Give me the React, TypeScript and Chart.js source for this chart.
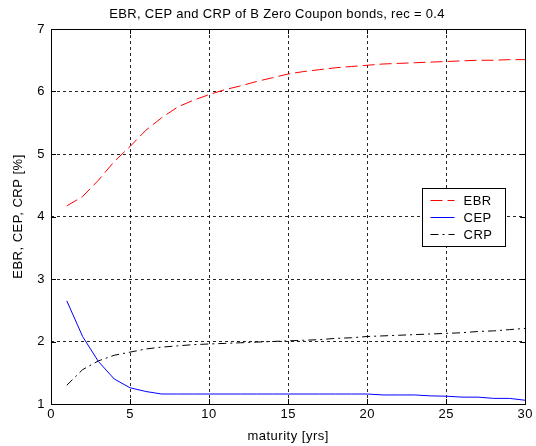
import React, { useEffect, useRef } from "react";
import { Chart, registerables } from "chart.js";

Chart.register(...registerables);

const TITLE = "EBR, CEP and CRP of B Zero Coupon bonds, rec = 0.4";
const X_LABEL = "maturity [yrs]";
const Y_LABEL = "EBR, CEP, CRP [%]";

const maturities = [1, 2, 3, 4, 5, 6, 7, 8, 9, 10, 11, 12, 13, 14, 15, 16, 17, 18, 19, 20, 21, 22, 23, 24, 25, 26, 27, 28, 29, 30];
const ebr = [4.17, 4.32, 4.58, 4.88, 5.12, 5.38, 5.58, 5.75, 5.86, 5.95, 6.03, 6.09, 6.16, 6.22, 6.28, 6.32, 6.35, 6.38, 6.40, 6.42, 6.44, 6.45, 6.46, 6.47, 6.48, 6.49, 6.50, 6.50, 6.51, 6.51];
const cep = [2.65, 2.08, 1.68, 1.4, 1.26, 1.2, 1.16, 1.16, 1.16, 1.16, 1.16, 1.16, 1.16, 1.16, 1.16, 1.16, 1.16, 1.16, 1.16, 1.16, 1.145, 1.145, 1.145, 1.13, 1.125, 1.11, 1.11, 1.09, 1.09, 1.06];
const crp = [1.3, 1.55, 1.69, 1.78, 1.83, 1.88, 1.91, 1.93, 1.95, 1.96, 1.97, 1.98, 1.99, 2.0, 2.01, 2.02, 2.03, 2.05, 2.06, 2.08, 2.09, 2.1, 2.11, 2.12, 2.13, 2.14, 2.16, 2.17, 2.19, 2.21];
const seriesNames = ["EBR", "CEP", "CRP"];
const xTicks = [0, 5, 10, 15, 20, 25, 30];
const yTicks = [1, 2, 3, 4, 5, 6, 7];

const FONT = "'Liberation Sans', Arial, Helvetica, sans-serif";
const FS = 13;
const SPACING = "0.5px";

const spacingPlugin = {
  id: "spacing",
  beforeLayout(chart: any) {
    chart.ctx.letterSpacing = SPACING;
  },
  beforeDraw(chart: any) {
    chart.ctx.letterSpacing = SPACING;
  },
};

const matlabPlugin = {
  id: "matlabBox",
  afterDraw(chart: any) {
    const { ctx, chartArea } = chart;
    const { left, right, top, bottom } = chartArea;
    const xs = chart.scales.x;
    const ys = chart.scales.y;
    ctx.save();
    ctx.strokeStyle = "#000";
    ctx.lineWidth = 1;
    ctx.setLineDash([]);
    const tl = 5;
    ctx.beginPath();
    xTicks.forEach((v) => {
      const px = Math.round(xs.getPixelForValue(v)) + 0.5;
      ctx.moveTo(px, bottom);
      ctx.lineTo(px, bottom - tl);
      ctx.moveTo(px, top);
      ctx.lineTo(px, top + tl);
    });
    yTicks.forEach((v) => {
      const py = Math.round(ys.getPixelForValue(v)) + 0.5;
      ctx.moveTo(left, py);
      ctx.lineTo(left + tl, py);
      ctx.moveTo(right, py);
      ctx.lineTo(right - tl, py);
    });
    ctx.stroke();
    ctx.strokeRect(Math.round(left) + 0.5, Math.round(top) + 0.5, Math.round(right - left), Math.round(bottom - top));

    // title
    ctx.font = FS + "px " + FONT;
    ctx.letterSpacing = "0.3px";
    ctx.fillStyle = "#000";
    ctx.textAlign = "center";
    ctx.textBaseline = "middle";
    ctx.fillText(TITLE, chart.width / 2 + 9, 14);

    // legend
    const bw = 83;
    const bh = 58;
    const bx = Math.round(right - 20 - bw) + 0.5;
    const by = Math.round((top + bottom) / 2 - 29) + 0.5;
    ctx.fillStyle = "#fff";
    ctx.fillRect(bx, by, bw, bh);
    ctx.strokeStyle = "#000";
    ctx.strokeRect(bx, by, bw, bh);
    ctx.letterSpacing = SPACING;
    ctx.textAlign = "left";
    chart.data.datasets.forEach((ds: any, i: number) => {
      const ry = Math.round(by + 11 + i * 17) + 0.5;
      ctx.strokeStyle = ds.borderColor;
      ctx.lineWidth = 1;
      ctx.setLineDash(ds.borderDash || []);
      ctx.beginPath();
      ctx.moveTo(bx + 8, ry);
      ctx.lineTo(bx + 32, ry);
      ctx.stroke();
      ctx.setLineDash([]);
      ctx.fillStyle = "#000";
      ctx.fillText(ds.label, bx + 41, ry + 0.5);
    });
    ctx.restore();
  },
};

export default function App() {
  const ref = useRef<HTMLCanvasElement | null>(null);
  useEffect(() => {
    document.body.style.margin = "0";
    const canvas = ref.current;
    if (!canvas) return;
    const font = { family: FONT, size: FS, weight: "normal" };
    const chart = new Chart(canvas, {
      type: "line",
      data: {
        datasets: [
          {
            label: seriesNames[0],
            data: maturities.map((m, i) => ({ x: m, y: ebr[i] })),
            borderColor: "#ff0000",
            borderWidth: 1,
            borderDash: [12, 5],
            pointRadius: 0,
            tension: 0,
            fill: false,
          },
          {
            label: seriesNames[1],
            data: maturities.map((m, i) => ({ x: m, y: cep[i] })),
            borderColor: "#0000ff",
            borderWidth: 1,
            pointRadius: 0,
            tension: 0,
            fill: false,
          },
          {
            label: seriesNames[2],
            data: maturities.map((m, i) => ({ x: m, y: crp[i] })),
            borderColor: "#000000",
            borderWidth: 1,
            borderDash: [8, 4, 2, 4],
            pointRadius: 0,
            tension: 0,
            fill: false,
          },
        ],
      },
      options: {
        responsive: false,
        animation: false,
        devicePixelRatio: 1,
        layout: { padding: { left: 0, right: 9, top: 29, bottom: 0 } },
        plugins: {
          legend: { display: false },
          tooltip: { enabled: false },
          title: { display: false },
        },
        scales: {
          x: {
            type: "linear",
            min: 0,
            max: 30,
            afterBuildTicks: (s: any) => {
              s.ticks = xTicks.map((v) => ({ value: v }));
            },
            afterFit: (s: any) => {
              s.height = 42;
            },
            ticks: {
              color: "#000",
              font,
              padding: 3,
              maxRotation: 0,
            },
            grid: { color: "rgba(0,0,0,0.85)", lineWidth: 1, drawTicks: false },
            border: { display: false, dash: [3, 3] },
            title: {
              display: true,
              text: X_LABEL,
              color: "#000",
              font,
              padding: { top: 0, bottom: 2 },
            },
          },
          y: {
            type: "linear",
            min: 1,
            max: 7,
            afterBuildTicks: (s: any) => {
              s.ticks = yTicks.map((v) => ({ value: v }));
            },
            afterFit: (s: any) => {
              s.width = 51;
            },
            ticks: {
              color: "#000",
              font,
              padding: 6,
            },
            grid: { color: "rgba(0,0,0,0.85)", lineWidth: 1, drawTicks: false },
            border: { display: false, dash: [3, 3] },
            title: {
              display: true,
              text: Y_LABEL,
              color: "#000",
              font,
              padding: { top: 11, bottom: 0 },
            },
          },
        },
      },
      plugins: [spacingPlugin, matlabPlugin],
    } as any);
    return () => chart.destroy();
  }, []);
  return <canvas ref={ref} width={536} height={446} style={{ display: "block" }} />;
}
